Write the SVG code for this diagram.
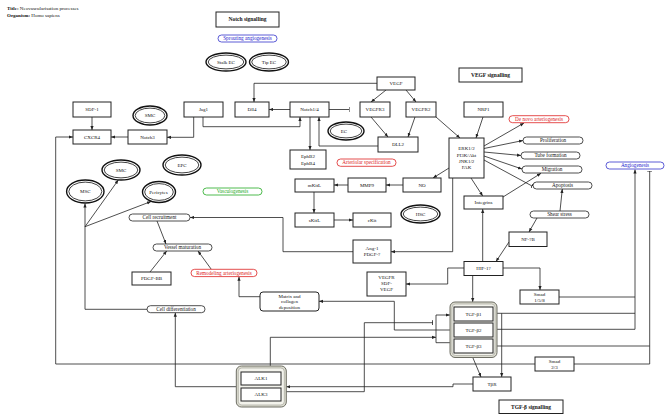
<svg xmlns="http://www.w3.org/2000/svg" width="672" height="420" viewBox="0 0 672 420">
<defs>
<style>
.t{font-family:"Liberation Serif","DejaVu Serif",serif;font-size:5px;text-anchor:middle;fill:#111}
.tp{font-family:"Liberation Serif","DejaVu Serif",serif;font-size:5.2px;text-anchor:middle;fill:#111}
.tb{font-family:"Liberation Serif","DejaVu Serif",serif;font-size:5.5px;font-weight:bold;text-anchor:middle;fill:#111}
.hd{font-family:"Liberation Serif","DejaVu Serif",serif;font-size:5px;fill:#111}
.box{fill:#fff;stroke:#222;stroke-width:1}
.pill{fill:#fff;stroke:#222;stroke-width:0.8}
.pb{fill:#fff;stroke:#3333cc;stroke-width:0.8}
.pr{fill:#fff;stroke:#dd2222;stroke-width:0.8}
.pg{fill:#fff;stroke:#22aa22;stroke-width:0.8}
.eo{fill:#fff;stroke:#111;stroke-width:1.4}
.ei{fill:none;stroke:#111;stroke-width:0.8}
.cont{fill:#dcdcd0;stroke:#6e6e64;stroke-width:1}
.conti{fill:#f3f3ec;stroke:#9c9c92;stroke-width:0.6}
.c{fill:none;stroke:#222;stroke-width:0.8}
.a{marker-end:url(#arr)}
.i{marker-end:url(#tee)}
</style>
<marker id="arr" viewBox="0 0 10 10" refX="10" refY="5" markerWidth="4" markerHeight="4" markerUnits="userSpaceOnUse" orient="auto"><path d="M0,1 L10,5 L0,9 z" fill="#222"/></marker>
<marker id="tee" viewBox="0 0 2 10" refX="1" refY="5" markerWidth="1" markerHeight="5" markerUnits="userSpaceOnUse" orient="auto"><rect x="0" y="0" width="2" height="10" fill="#222"/></marker>
</defs>
<rect width="672" height="420" fill="#fff"/>
<g id="header">
<text class="hd" x="7" y="10"><tspan font-weight="bold">Title:</tspan> Neovascularisation processes</text>
<text class="hd" x="7" y="16.5"><tspan font-weight="bold">Organism:</tspan> Homo sapiens</text>
</g>
<g id="connectors">
<path class="c a" d="M92,117 V130"/>
<path class="c a" d="M128,137 H111"/>
<path class="c a" d="M193.7,117 V137.3 H167"/>
<path class="c a" d="M203,117 V126.7 H300 V117"/>
<path class="c a" d="M290,109.5 H269"/>
<path class="c a" d="M377,83.3 H254 V102"/>
<path class="c i" d="M329,109.5 H349"/>
<path class="c a" d="M386,90 L371,102"/>
<path class="c a" d="M406,90 L416,102"/>
<path class="c a" d="M371,117 L388,137"/>
<path class="c a" d="M415,117 L408,137"/>
<path class="c a" d="M436,117 L460,138"/>
<path class="c a" d="M483,117 L476,138"/>
<path class="c a" d="M310,117 V150"/>
<path class="c a" d="M378,146 H319 V117"/>
<path class="c a" d="M484,146 L524,123"/>
<path class="c a" d="M484,148.5 L523,140.5"/>
<path class="c a" d="M484,152 L521,155.5"/>
<path class="c a" d="M484,156 L522,169"/>
<path class="c i" d="M484,160 L532,186"/>
<path class="c a" d="M503,197 L541,173.3"/>
<path class="c a" d="M471,178 L482.7,196"/>
<path class="c a" d="M449,168 L433,178"/>
<path class="c a" d="M403,185 H386"/>
<path class="c a" d="M348,185 H334"/>
<path class="c a" d="M314,192 V213"/>
<path class="c a" d="M334,220 H353"/>
<path class="c a" d="M452.7,178 V251.7 H391"/>
<path class="c a" d="M353,251.7 H283 V217.5 H190"/>
<path class="c a" d="M560,211 L562.3,189"/>
<path class="c a" d="M537,218 L529,232"/>
<path class="c a" d="M509,242 L496,261.5"/>
<path class="c a" d="M482.7,261.5 V209"/>
<path class="c a" d="M464,268 H447.7 V284 H406"/>
<path class="c a" d="M472.7,275.5 V302"/>
<path class="c a" d="M503,268 H540 V290"/>
<path class="c" d="M559,297 H635"/>
<path class="c" d="M493,313.3 H635"/>
<path class="c a" d="M493,329.3 H635 V169.5"/>
<path class="c" d="M493,346 H649.7"/>
<path class="c i" d="M574,364 H649.7 V171"/>
<path class="c a" d="M501.7,313.3 V377"/>
<path class="c a" d="M472.7,357.3 L481,377"/>
<path class="c a" d="M473,384 H453 V386.7 H286.3"/>
<path class="c a" d="M236.3,386.7 H175.3 V312.7"/>
<path class="c a" d="M270.3,372 V337.3 H436"/>
<path class="c" d="M436,315 V342.7 H450"/>
<path class="c a" d="M436,315 H450"/>
<path class="c i" d="M281,391.7 H364.3 V322.7 H432.7"/>
<path class="c a" d="M450,330 H394.3 V301.3 H319"/>
<path class="c a" d="M260,296.7 H239 V276.7"/>
<path class="c a" d="M211.3,269.3 L198,251"/>
<path class="c a" d="M150,272 L166.7,251"/>
<path class="c a" d="M157,221 L166,244"/>
<path class="c a" d="M147,309.3 H85 V203.5"/>
<path class="c a" d="M85,226.7 L118.3,180"/>
<path class="c a" d="M85,226.7 L151,201.5"/>
<path class="c a" d="M535,364 H55.7 V137 H73"/>
</g>
<g id="notch-signalling"><rect class="box" x="216" y="12" width="63" height="15"/><text class="tb" x="247.5" y="21.4">Notch signalling</text></g>
<g id="vegf-signalling"><rect class="box" x="459" y="68" width="63" height="14"/><text class="tb" x="490.5" y="76.9">VEGF signalling</text></g>
<g id="tgf-signalling"><rect class="box" x="499" y="400" width="64" height="13.5"/><text class="tb" x="531" y="408.7">TGF-β signalling</text></g>
<g id="sprouting"><rect class="pb" x="218" y="35" width="59" height="7" rx="3.5"/><text class="tp" x="247.5" y="40.3" fill="#2222cc" style="fill:#2222cc">Sprouting angiogenesis</text></g>
<g id="stalk-ec"><ellipse class="eo" cx="226" cy="62" rx="20" ry="9"/><ellipse class="ei" cx="226" cy="62" rx="17.8" ry="6.9"/><text class="t" x="226" y="63.7">Stalk EC</text></g>
<g id="tip-ec"><ellipse class="eo" cx="269" cy="62" rx="19.5" ry="9"/><ellipse class="ei" cx="269" cy="62" rx="17.3" ry="6.9"/><text class="t" x="269" y="63.7">Tip EC</text></g>
<g id="sdf1"><rect class="box" x="73" y="102" width="38" height="15"/><text class="t" x="92" y="111.2">SDF-1</text></g>
<g id="cxcr4"><rect class="box" x="73" y="130" width="38" height="14"/><text class="t" x="92" y="138.7">CXCR4</text></g>
<g id="smc-top"><ellipse class="eo" cx="150" cy="115.5" rx="17" ry="9.5"/><ellipse class="ei" cx="150" cy="115.5" rx="14.8" ry="7.4"/><text class="t" x="150" y="117.2">SMC</text></g>
<g id="notch3"><rect class="box" x="128" y="130" width="39" height="14"/><text class="t" x="147.5" y="138.7">Notch3</text></g>
<g id="jag1"><rect class="box" x="184" y="102" width="39" height="15"/><text class="t" x="203.5" y="111.2">Jag1</text></g>
<g id="dll4"><rect class="box" x="235" y="102" width="34" height="15"/><text class="t" x="252" y="111.2">Dll4</text></g>
<g id="notch14"><rect class="box" x="290" y="102" width="39" height="15"/><text class="t" x="309.5" y="111.2">Notch1/4</text></g>
<g id="vegf"><rect class="box" x="377" y="77" width="38" height="13"/><text class="t" x="396" y="85.2">VEGF</text></g>
<g id="vegfr3"><rect class="box" x="360" y="102" width="30" height="15"/><text class="t" x="375" y="111.2">VEGFR3</text></g>
<g id="vegfr2"><rect class="box" x="406" y="102" width="30" height="15"/><text class="t" x="421" y="111.2">VEGFR2</text></g>
<g id="nrp1"><rect class="box" x="464" y="102" width="39" height="15"/><text class="t" x="483.5" y="111.2">NRP1</text></g>
<g id="ec"><ellipse class="eo" cx="346" cy="131" rx="18" ry="9"/><ellipse class="ei" cx="346" cy="131" rx="15.8" ry="6.9"/><text class="t" x="344" y="132.7">EC</text></g>
<g id="dll2"><rect class="box" x="378" y="137" width="40" height="15"/><text class="t" x="398" y="146.2">DLL2</text></g>
<g id="ephb"><rect class="box" x="290" y="150" width="36" height="19"/><text class="t" x="308" y="158">EphB2</text><text class="t" x="308" y="164.5">EphB4</text></g>
<g id="erk"><rect class="box" x="449" y="138" width="35" height="40"/><text class="t" x="466.5" y="149.8">ERK1/2</text><text class="t" x="466.5" y="156.5">PI3K/Akt</text><text class="t" x="466.5" y="163">JNK1/2</text><text class="t" x="466.5" y="169.3">FAK</text></g>
<g id="de-novo"><rect class="pr" x="509" y="115.7" width="60" height="7" rx="3.5"/><text class="tp" x="539" y="121" style="fill:#dd2222">De novo arteriogenesis</text></g>
<g id="proliferation"><rect class="pill" x="523" y="137" width="60" height="7" rx="3.5"/><text class="tp" x="553" y="142.3">Proliferation</text></g>
<g id="tube"><rect class="pill" x="521" y="152" width="59" height="7" rx="3.5"/><text class="tp" x="550.5" y="157.3">Tube formation</text></g>
<g id="migration"><rect class="pill" x="522" y="166" width="60" height="7" rx="3.5"/><text class="tp" x="552" y="171.3">Migration</text></g>
<g id="apoptosis"><rect class="pill" x="533" y="182" width="59" height="7" rx="3.5"/><text class="tp" x="562.5" y="187.3">Apoptosis</text></g>
<g id="shear"><rect class="pill" x="530" y="211" width="59" height="7" rx="3.5"/><text class="tp" x="559.5" y="216.3">Shear stress</text></g>
<g id="angiogenesis"><rect class="pb" x="606" y="162" width="58" height="7" rx="3.5"/><text class="tp" x="635" y="167.3" style="fill:#2222cc">Angiogenesis</text></g>
<g id="arteriolar"><rect class="pr" x="337" y="159" width="59" height="7.3" rx="3.6"/><text class="tp" x="366.5" y="164.4" style="fill:#dd2222">Arteriolar specification</text></g>
<g id="no"><rect class="box" x="403" y="178" width="38" height="14"/><text class="t" x="422" y="186.7">NO</text></g>
<g id="mmp9"><rect class="box" x="348" y="178" width="38" height="14"/><text class="t" x="367" y="186.7">MMP9</text></g>
<g id="mkitl"><rect class="box" x="295" y="179" width="39" height="13"/><text class="t" x="314.5" y="187.2">mKitL</text></g>
<g id="skitl"><rect class="box" x="295" y="213" width="39" height="14"/><text class="t" x="314.5" y="221.7">sKitL</text></g>
<g id="ckit"><rect class="box" x="353" y="213" width="38" height="14"/><text class="t" x="372" y="221.7">cKit</text></g>
<g id="hsc"><ellipse class="eo" cx="420.5" cy="214" rx="19.5" ry="9"/><ellipse class="ei" cx="420.5" cy="214" rx="17.3" ry="6.9"/><text class="t" x="420.5" y="215.7">HSC</text></g>
<g id="integrins"><rect class="box" x="464" y="196" width="39" height="13"/><text class="t" x="483.5" y="204.2">Integrins</text></g>
<g id="nfkb"><rect class="box" x="509" y="232" width="38" height="14.5"/><text class="t" x="528" y="241">NF-?B</text></g>
<g id="ang1"><rect class="box" x="353" y="240" width="38" height="23"/><text class="t" x="372" y="249.8">Ang-1</text><text class="t" x="372" y="256">PDGF-?</text></g>
<g id="hif1"><rect class="box" x="464" y="261.5" width="39" height="14"/><text class="t" x="483.5" y="270.2">HIF-1?</text></g>
<g id="vegfr-sdf"><rect class="box" x="367" y="272" width="39" height="24"/><text class="t" x="386.5" y="278.8">VEGFR</text><text class="t" x="386.5" y="285">SDF-</text><text class="t" x="386.5" y="291.2">VEGF</text></g>
<g id="epc"><ellipse class="eo" cx="182" cy="165" rx="19" ry="10"/><ellipse class="ei" cx="182" cy="165" rx="16.8" ry="7.9"/><text class="t" x="182" y="166.7">EPC</text></g>
<g id="smc"><ellipse class="eo" cx="121" cy="170" rx="19" ry="10"/><ellipse class="ei" cx="121" cy="170" rx="16.8" ry="7.9"/><text class="t" x="121" y="171.7">SMC</text></g>
<g id="msc"><ellipse class="eo" cx="85.3" cy="191.5" rx="18.7" ry="11.5"/><ellipse class="ei" cx="85.3" cy="191.5" rx="16.5" ry="9.4"/><text class="t" x="85.3" y="193.2">MSC</text></g>
<g id="pericytes"><ellipse class="eo" cx="159" cy="192" rx="16.5" ry="10.5"/><ellipse class="ei" cx="159" cy="192" rx="14.3" ry="8.4"/><text class="t" x="158.5" y="193.7">Pericytes</text></g>
<g id="vasculogenesis"><rect class="pg" x="203" y="188" width="59" height="7" rx="3.5"/><text class="tp" x="232.5" y="193.3" style="fill:#22aa22">Vasculogenesis</text></g>
<g id="cell-recruitment"><rect class="pill" x="129" y="214" width="61" height="7" rx="3.5"/><text class="tp" x="159.5" y="219.3">Cell recruitment</text></g>
<g id="vessel-maturation"><rect class="pill" x="153" y="244" width="59" height="7" rx="3.5"/><text class="tp" x="182.5" y="249.3">Vessel maturation</text></g>
<g id="pdgfbb"><rect class="box" x="132" y="272" width="39" height="13"/><text class="t" x="151.5" y="280.2">PDGF-BB</text></g>
<g id="remodeling"><rect class="pr" x="191" y="269.3" width="66" height="7.3" rx="3.6"/><text class="tp" x="224" y="274.7" style="fill:#dd2222">Remodeling arteriogenesis</text></g>
<g id="matrix"><rect class="box" x="260" y="292" width="59" height="19" rx="3"/><text class="t" x="289.5" y="297.6">Matrix and</text><text class="t" x="289.5" y="303.4">collagen</text><text class="t" x="289.5" y="309.2">deposition</text></g>
<g id="cell-differentiation"><rect class="pill" x="147" y="305.7" width="58" height="7" rx="3.5"/><text class="tp" x="176" y="311">Cell differentiation</text></g>
<g id="smad158"><rect class="box" x="520" y="290" width="39" height="14"/><text class="t" x="539.5" y="296">Smad</text><text class="t" x="539.5" y="302">1/5/8</text></g>
<g id="smad23"><rect class="box" x="535" y="357" width="39" height="14"/><text class="t" x="554.5" y="363">Smad</text><text class="t" x="554.5" y="369">2/3</text></g>
<g id="tgf-group"><rect class="cont" x="450" y="302" width="47" height="55.5" rx="5"/><rect class="conti" x="452" y="304" width="43" height="51.5" rx="3.5"/>
<rect class="box" x="454" y="307" width="39" height="14"/><text class="t" x="473.5" y="315.7">TGF-β1</text>
<rect class="box" x="454" y="323" width="39" height="14"/><text class="t" x="473.5" y="331.7">TGF-β2</text>
<rect class="box" x="454" y="339" width="39" height="14"/><text class="t" x="473.5" y="347.7">TGF-β3</text></g>
<g id="tbr"><rect class="box" x="473" y="377" width="38" height="14"/><text class="t" x="492" y="385.7">TβR</text></g>
<g id="alk-group"><rect class="cont" x="236.3" y="366" width="50" height="41" rx="5"/><rect class="conti" x="238.3" y="368" width="46" height="37" rx="3.5"/>
<rect class="box" x="241" y="372" width="40" height="13"/><text class="t" x="261" y="380.2">ALK1</text>
<rect class="box" x="241" y="388" width="40" height="13"/><text class="t" x="261" y="396.2">ALK3</text></g>
</svg>
